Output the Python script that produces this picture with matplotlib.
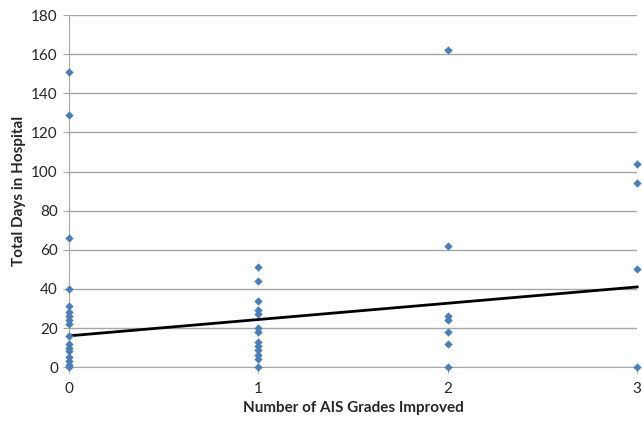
import numpy as np
from matplotlib import pyplot as plt

plt.rcParams['font.family'] = ['Lato', 'DejaVu Sans']

# days in hospital, grouped by number of AIS grades improved
grades = [0, 1, 2, 3]
days_0 = [151, 129, 66, 40, 31, 28, 26, 24, 22, 16, 12, 10, 8, 5, 3, 1, 0]
days_1 = [51, 44, 34, 29, 27, 20, 18, 13, 11, 9, 6, 4, 0]
days_2 = [162, 62, 26, 24, 18, 12, 0]
days_3 = [104, 94, 50, 0]

# linear trendline as drawn in the chart
trend_x = [0, 3]
trend_y = [16, 41]

x_a = []
y_a = []
for g, d in zip(grades, [days_0, days_1, days_2, days_3]):
	x_a += [g] * len(d)
	y_a += d

fig = plt.figure(figsize=(6.42, 4.21), dpi=100)
ax = fig.add_axes([0.1075, 0.128, 0.885, 0.836])

ax.set_xlim(0, 3)
ax.set_ylim(0, 180)
ax.set_yticks(np.arange(0, 181, 20))
ax.set_xticks(grades)
ax.grid(axis='y', color='#a6a6a6', linewidth=1)
ax.set_axisbelow(True)

for s in ['top', 'right']:
	ax.spines[s].set_visible(False)
for s in ['left', 'bottom']:
	ax.spines[s].set_color('#a6a6a6')
ax.tick_params(axis='both', colors='#a6a6a6', labelcolor='#262626', labelsize=11, length=4.5)
ax.tick_params(axis='x', pad=6)

ax.plot(trend_x, trend_y, color='black', linewidth=2, zorder=3, clip_on=False)
ax.scatter(x_a, y_a, marker='D', s=18, color='#4a7ebb', zorder=4, clip_on=False, linewidths=0)

ax.set_xlabel('Number of AIS Grades Improved', fontweight='bold', fontsize=11, color='#262626')
ax.set_ylabel('Total Days in Hospital', fontweight='bold', fontsize=11, color='#262626')

plt.savefig('out.png', dpi=100)
